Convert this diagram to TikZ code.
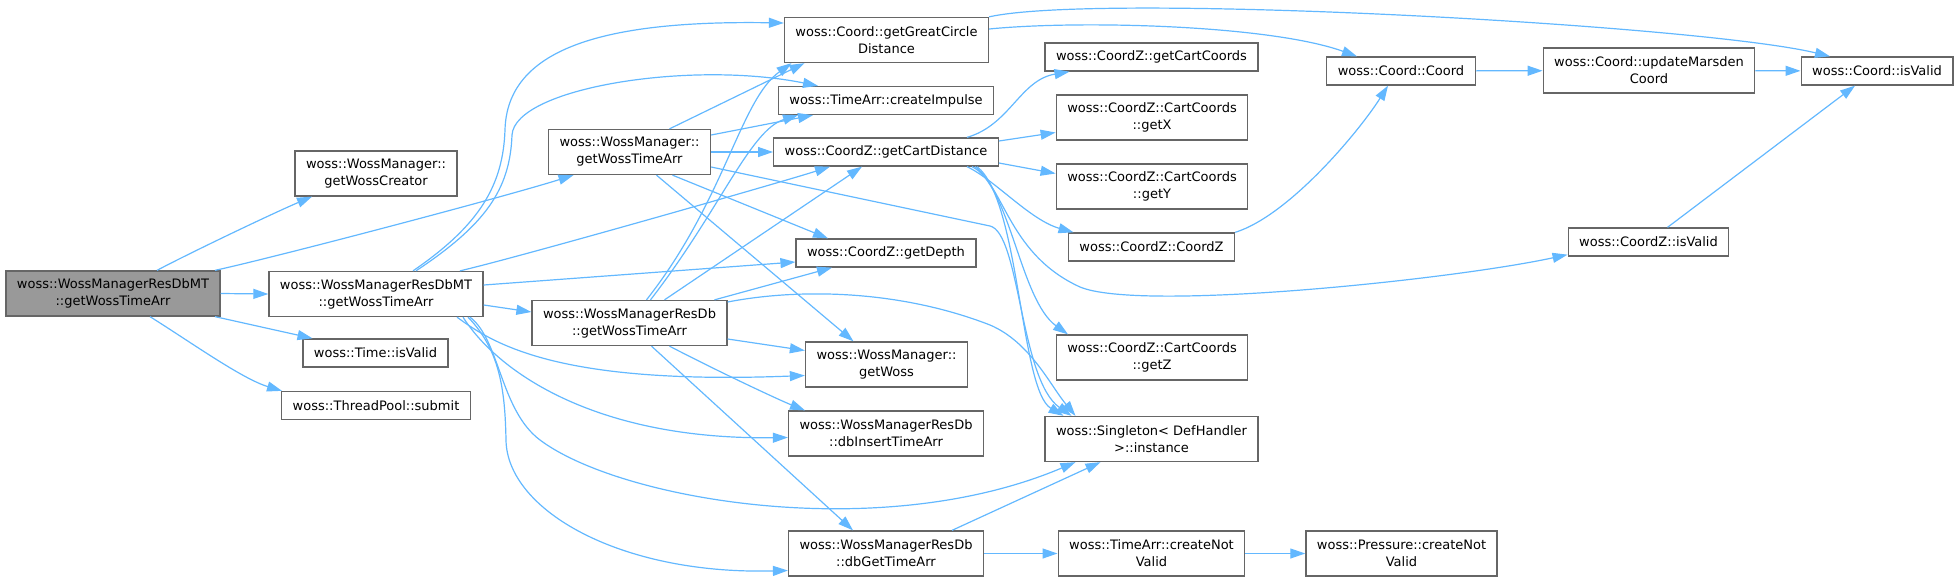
\documentclass[tikz,border=0pt]{standalone}
\usepackage{fontspec}
\setmainfont{DejaVu Sans}
\usetikzlibrary{arrows.meta}
\definecolor[named]{EdgeBlue}{HTML}{63B8FF}
\definecolor[named]{BoxGray}{HTML}{666666}
\definecolor[named]{RootGray}{HTML}{999999}
\tikzset{
  fn/.style={draw=BoxGray,line width=1.3pt,fill=white,rectangle,
    minimum height=28pt,inner xsep=11pt,inner ysep=2pt,align=center,
    font=\fontsize{13pt}{17pt}\selectfont},
  fn2/.style={fn,minimum height=45pt},
  callarrow/.style={EdgeBlue,line width=1.2pt,
    -{Triangle[length=15pt,width=10pt]}}
}
\begin{document}
\begin{tikzpicture}[x=1pt,y=-1pt]
  \useasboundingbox (0,0) rectangle (1958,581);

  % first column
  \node[fn2,fill=RootGray] (root) at (113,293.5) {woss::WossManagerResDbMT\\::getWossTimeArr};
  % second column
  \node[fn2] (creator) at (376,173.5) {woss::WossManager::\\getWossCreator};
  \node[fn2] (mt) at (376,294) {woss::WossManagerResDbMT\\::getWossTimeArr};
  \node[fn] (tvalid) at (375.5,353) {woss::Time::isValid};
  \node[fn] (submit) at (376,405.5) {woss::ThreadPool::submit};
  % third column
  \node[fn2] (wmtime) at (629.5,152) {woss::WossManager::\\getWossTimeArr};
  \node[fn2] (resdb) at (629.5,323) {woss::WossManagerResDb\\::getWossTimeArr};
  % fourth column
  \node[fn2] (great) at (886.5,40) {woss::Coord::getGreatCircle\\Distance};
  \node[fn] (impulse) at (886,100.5) {woss::TimeArr::createImpulse};
  \node[fn] (cart) at (886,152) {woss::CoordZ::getCartDistance};
  \node[fn] (depth) at (886,253) {woss::CoordZ::getDepth};
  \node[fn2] (getwoss) at (886.5,364.5) {woss::WossManager::\\getWoss};
  \node[fn2] (insert) at (886,433.5) {woss::WossManagerResDb\\::dbInsertTimeArr};
  \node[fn2] (dbget) at (886,553.5) {woss::WossManagerResDb\\::dbGetTimeArr};
  % fifth column
  \node[fn] (cartcoords) at (1151.5,57) {woss::CoordZ::getCartCoords};
  \node[fn2] (getx) at (1152,117.5) {woss::CoordZ::CartCoords\\::getX};
  \node[fn2] (gety) at (1152,186.5) {woss::CoordZ::CartCoords\\::getY};
  \node[fn] (coordz) at (1151.5,247) {woss::CoordZ::CoordZ};
  \node[fn2] (getz) at (1152,357.5) {woss::CoordZ::CartCoords\\::getZ};
  \node[fn2] (single) at (1151.5,439) {woss::Singleton< DefHandler\\>::instance};
  \node[fn2] (notvalid) at (1151.5,553.5) {woss::TimeArr::createNot\\Valid};
  % right part
  \node[fn] (coord) at (1401,71) {woss::Coord::Coord};
  \node[fn2] (pnotvalid) at (1401.5,553.5) {woss::Pressure::createNot\\Valid};
  \node[fn2] (marsden) at (1649,70.5) {woss::Coord::updateMarsden\\Coord};
  \node[fn] (czvalid) at (1648.5,242) {woss::CoordZ::isValid};
  \node[fn] (cvalid) at (1877,71) {woss::Coord::isValid};

  % calls of the root
  \draw[callarrow] ([xshift=44]root.north) .. controls +(30,-16) and +(-40,17) .. ([xshift=-64]creator.south);
  \draw[callarrow] ([xshift=102]root.north) .. controls +(60,-13) and +(-70,22) .. ([xshift=-56]wmtime.south);
  \draw[callarrow] (root.east) -- (mt.west);
  \draw[callarrow] ([xshift=102]root.south) -- ([xshift=-63]tvalid.north);
  \draw[callarrow] ([xshift=37]root.south) .. controls +(40,25) and +(-40,-12) .. ([xshift=-94]submit.north);

  % calls of WossManagerResDbMT
  \draw[callarrow] ([xshift=37]mt.north) .. controls (480,225) and (503,185) .. (505,130)
    .. controls (507,50) and (600,20) .. ([yshift=17]great.west);
  \draw[callarrow] ([xshift=40]mt.north) .. controls (485,225) and (510,190) .. (512,135)
    .. controls (515,88) and (690,60) .. ([xshift=-68]impulse.north);
  \draw[callarrow] ([xshift=84]mt.north) .. controls +(60,-14) and +(-50,16) .. ([xshift=-56]cart.south);
  \draw[callarrow] ([yshift=9]mt.east) -- ([yshift=-9]depth.west);
  \draw[callarrow] ([yshift=-11]mt.east) -- ([yshift=11]resdb.west);
  \draw[callarrow] ([xshift=81]mt.south) .. controls (495,345) and (560,385) .. ([yshift=-11]getwoss.west);
  \draw[callarrow] ([xshift=87]mt.south) .. controls (500,375) and (600,440) .. ([yshift=-4]insert.west);
  \draw[callarrow] ([xshift=94]mt.south) .. controls (500,340) and (500,410) .. (540,440)
    .. controls (620,500) and (880,545) .. ([xshift=-76]single.south);
  \draw[callarrow] ([xshift=92]mt.south) .. controls (500,350) and (505,390) .. (506,440)
    .. controls (507,510) and (620,575) .. ([yshift=-17]dbget.west);

  % calls of WossManager
  \draw[callarrow] ([xshift=40]wmtime.north) -- ([xshift=-82]great.south);
  \draw[callarrow] ([yshift=17]wmtime.east) -- ([xshift=-73]impulse.south);
  \draw[callarrow] (wmtime.east) -- (cart.west);
  \draw[callarrow] ([xshift=43]wmtime.south) -- ([xshift=-58]depth.north);
  \draw[callarrow] ([xshift=27]wmtime.south) -- ([xshift=-33]getwoss.north);
  \draw[callarrow] ([yshift=-15]wmtime.east) -- (990,226)
    .. controls (1020,233) and (1020,380) .. ([xshift=-80]single.north);

  % calls of WossManagerResDb
  \draw[callarrow] ([xshift=17]resdb.north) .. controls (725,200) and (740,100) .. ([xshift=-95]great.south);
  \draw[callarrow] ([xshift=21]resdb.north) .. controls (720,210) and (750,130) .. ([xshift=-88]impulse.south);
  \draw[callarrow] ([xshift=35]resdb.north) -- ([xshift=-24]cart.south);
  \draw[callarrow] ([xshift=85]resdb.north) -- ([xshift=-54]depth.south);
  \draw[callarrow] ([yshift=-16]resdb.east) -- ([yshift=14]getwoss.west);
  \draw[callarrow] ([xshift=40]resdb.south) .. controls +(50,26) and +(-25,-10) .. ([xshift=-81]insert.north);
  \draw[callarrow] ([xshift=22]resdb.south) -- ([xshift=-33]dbget.north);
  \draw[callarrow] ([yshift=21]resdb.east) .. controls (800,288) and (900,290) .. (990,325)
    .. controls (1030,342) and (1050,385) .. ([xshift=-76]single.north);

  % Coord and CoordZ
  \draw[callarrow] ([yshift=11]great.east) .. controls (1080,20) and (1270,25) .. ([xshift=-44]coord.north);
  \draw[callarrow] (great.north east) .. controls (1100,-8) and (1700,25) .. ([xshift=-47]cvalid.north);
  \draw[callarrow] ([xshift=81]cart.north) .. controls (1010,125) and (1020,80) .. ([xshift=-82]cartcoords.south);
  \draw[callarrow] ([yshift=11]cart.east) -- ([yshift=-15]getx.west);
  \draw[callarrow] ([yshift=-11]cart.east) -- ([yshift=13]gety.west);
  \draw[callarrow] ([xshift=81]cart.south) .. controls (995,180) and (1030,220) .. ([xshift=-78]coordz.north);
  \draw[callarrow] ([xshift=86]cart.south) .. controls (1010,185) and (1020,300) .. ([xshift=-84]getz.north);
  \draw[callarrow] ([xshift=91]cart.south) .. controls (1020,200) and (1020,390) .. ([xshift=-88]single.north);
  \draw[callarrow] ([xshift=89]cart.south) .. controls (1005,190) and (1010,255) .. (1080,287)
    .. controls (1140,312) and (1450,280) .. ([yshift=2]czvalid.south west);
  \draw[callarrow] (coordz.north east) .. controls (1290,215) and (1360,130) .. ([xshift=-13]coord.south);
  \draw[callarrow] (coord) -- (marsden);
  \draw[callarrow] (marsden) -- (cvalid);
  \draw[callarrow] ([xshift=19]czvalid.north) -- ([xshift=-22]cvalid.south);

  % dbGetTimeArr
  \draw[callarrow] ([xshift=66]dbget.north) -- ([xshift=-51]single.south);
  \draw[callarrow] (dbget.east) -- (notvalid.west);
  \draw[callarrow] (notvalid.east) -- (pnotvalid.west);
\end{tikzpicture}
\end{document}
